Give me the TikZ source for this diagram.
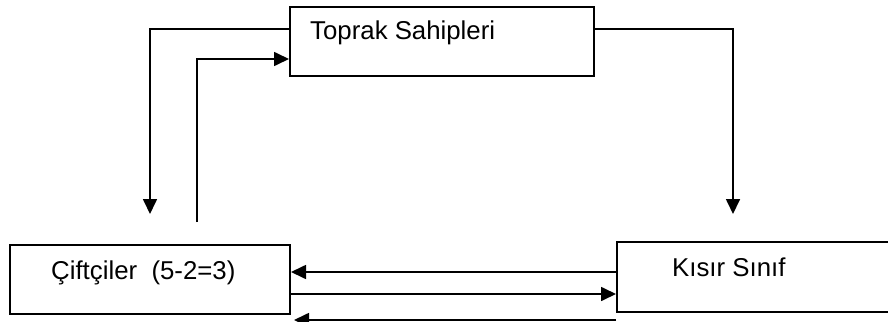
\documentclass[tikz,border=0pt]{standalone}
\usepackage{fontspec}
\setmainfont{Liberation Sans}
\usetikzlibrary{arrows.meta,positioning}

\begin{document}
\begin{tikzpicture}[x=1pt, y=-1pt,
    kutu/.style={draw, line width=2pt, rectangle, anchor=north west, inner sep=0pt},
    yazi/.style={anchor=base west, inner sep=0pt, font=\fontsize{25.8}{30}\selectfont},
    ok/.style={-{Triangle[length=15pt,width=14pt]}, line width=1.7pt}]
\clip (0,0) rectangle (888,321);

% kutular
\node[kutu, minimum width=304pt, minimum height=69pt] (toprak) at (289,6) {};
\node[kutu, minimum width=280pt, minimum height=69pt] (ciftci) at (9,244) {};
\node[kutu, minimum width=290pt, minimum height=70pt] (kisir) at (616,241) {};
\node[yazi] (toprakyazi) at (310,40) {Toprak Sahipleri};
\node[yazi] (ciftciyazi) at (51,279) {Çiftçiler\ \ (5-2=3)};
\node[yazi] (kisiryazi) at (672,276) {Kısır Sınıf};
\coordinate (kisirust) at (733,214);

% oklar
\draw[ok] ([yshift=-23pt]toprak.north west) -| ([yshift=30pt]ciftci.north);
\draw[ok] ([xshift=47pt,yshift=22pt]ciftci.north) |- ([yshift=-53pt]toprak.north west);
\draw[ok] ([yshift=-23pt]toprak.north east) -| (kisirust);
\draw[ok] ([yshift=-31pt]kisir.north west) -- ([yshift=-28pt]ciftci.north east);
\draw[ok] ([yshift=-50pt]ciftci.north east) -- ([yshift=-53pt]kisir.north west);
\draw[ok] ([yshift=-7pt]kisir.south west) -- ([xshift=3pt,yshift=-5pt]ciftci.south east);
\end{tikzpicture}
\end{document}
